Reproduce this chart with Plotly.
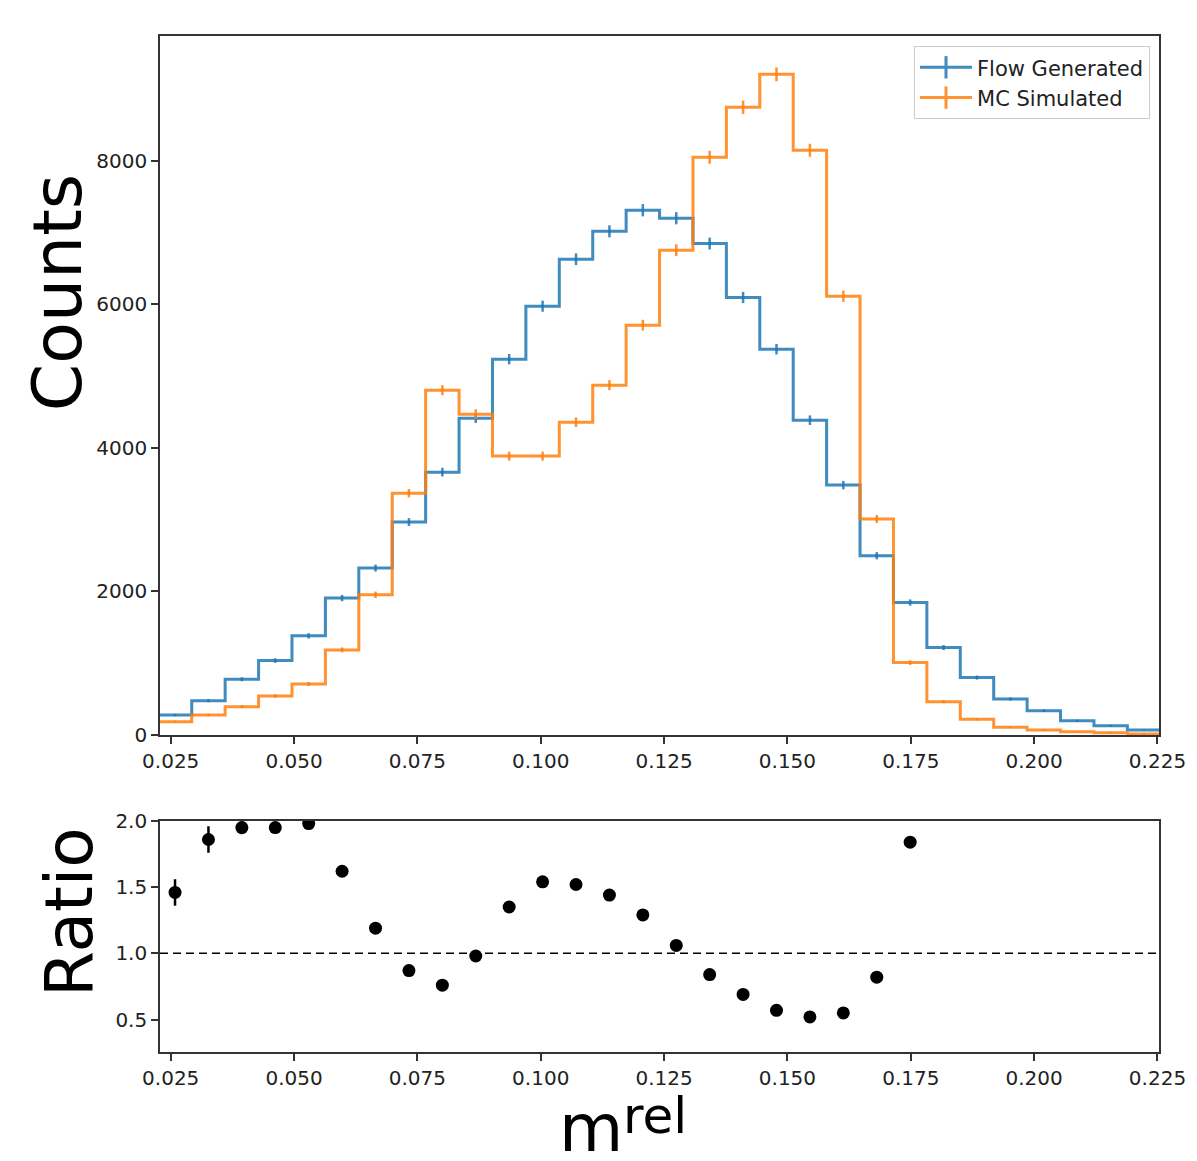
import numpy as np
import plotly.graph_objects as go

# ---------------- data ----------------
bin_lo, bin_hi, n_bins = 0.02249, 0.22567, 30

flow_counts = [279, 479, 777, 1037, 1382, 1908, 2326, 2967, 3663, 4415,
               5237, 5975, 6630, 7019, 7312, 7201, 6848, 6096, 5376, 4387,
               3482, 2498, 1846, 1218, 800, 502, 339, 200, 130, 70]
mc_counts = [185, 279, 395, 544, 712, 1186, 1954, 3370, 4805, 4471,
             3886, 3886, 4359, 4875, 5710, 6755, 8050, 8747, 9206, 8148,
             6114, 3010, 1009, 465, 219, 107, 70, 47, 33, 14]

ratio_vals = [1.46, 1.86, 1.95, 1.95, 1.98, 1.62, 1.19, 0.87, 0.76, 0.98,
              1.35, 1.54, 1.52, 1.44, 1.29, 1.06, 0.84, 0.69, 0.57, 0.52,
              0.55, 0.82, 1.84, None, None, None, None, None, None, None]
ratio_errs = [0.10, 0.10, 0.05, 0.04, 0.04, 0.03, 0.02, 0.02, 0.02, 0.02,
              0.02, 0.02, 0.02, 0.02, 0.02, 0.02, 0.02, 0.02, 0.02, 0.02,
              0.02, 0.02, 0.04, 0, 0, 0, 0, 0, 0, 0]

x_ticks = [0.025, 0.05, 0.075, 0.1, 0.125, 0.15, 0.175, 0.2, 0.225]
x_tick_labels = ["0.025", "0.050", "0.075", "0.100", "0.125", "0.150",
                 "0.175", "0.200", "0.225"]
count_ticks = [0, 2000, 4000, 6000, 8000]
ratio_ticks = [0.5, 1.0, 1.5, 2.0]
series_names = ["Flow Generated", "MC Simulated"]

# ---------------- styling ----------------
BLUE = "#1f77b4"
ORANGE = "#ff7f0e"
FONT = "DejaVu Sans"
AX = "#333333"

edges = np.linspace(bin_lo, bin_hi, n_bins + 1)
centers = 0.5 * (edges[:-1] + edges[1:])

fig = go.Figure()

for counts, color in [(flow_counts, BLUE), (mc_counts, ORANGE)]:
    fig.add_trace(go.Scatter(
        x=edges, y=list(counts) + [counts[-1]], mode="lines",
        line=dict(shape="hv", color=color, width=3), opacity=0.85,
        showlegend=False, hoverinfo="skip", xaxis="x", yaxis="y"))
    fig.add_trace(go.Scatter(
        x=centers, y=counts, mode="markers",
        marker=dict(size=1, color=color), opacity=0.85,
        error_y=dict(type="data", array=np.sqrt(counts), color=color,
                     thickness=2.5, width=0),
        showlegend=False, xaxis="x", yaxis="y"))

# legend entries (line with error-bar cross)
for name, color in zip(series_names, [BLUE, ORANGE]):
    fig.add_trace(go.Scatter(
        x=[None], y=[None], mode="lines+markers", name=name,
        line=dict(color=color, width=3),
        marker=dict(symbol="line-ns", size=20, color=color,
                    line=dict(color=color, width=3)),
        opacity=0.85, xaxis="x", yaxis="y"))

# ratio panel
fig.add_trace(go.Scatter(
    x=centers, y=ratio_vals, mode="markers",
    marker=dict(size=13, color="black"),
    error_y=dict(type="data", array=ratio_errs, color="black",
                 thickness=2.5, width=0),
    showlegend=False, xaxis="x2", yaxis="y2"))

fig.add_shape(type="line", xref="x2 domain", yref="y2", x0=0, x1=1, y0=1, y1=1,
              line=dict(color="black", width=1.5, dash="8px,5px"), layer="below")

axis_common = dict(
    showline=True, linecolor=AX, linewidth=1.6, mirror=True,
    ticks="outside", ticklen=7, tickwidth=1.5, tickcolor=AX,
    showgrid=False, zeroline=False, automargin=False,
    tickfont=dict(family=FONT, size=20, color="#222222"),
)

x_range = [0.02283, 0.22531]

fig.update_layout(
    width=1189, height=1153,
    margin=dict(l=152, r=38, t=28, b=109),
    paper_bgcolor="white", plot_bgcolor="white",
    font=dict(family=FONT, color="#222222"),
    xaxis=dict(domain=[0, 1], anchor="y", range=x_range,
               tickvals=x_ticks, ticktext=x_tick_labels, **axis_common),
    yaxis=dict(domain=[0.312, 1], anchor="x", range=[0, 9740],
               tickvals=count_ticks, **axis_common),
    xaxis2=dict(domain=[0, 1], anchor="y2", range=x_range,
                tickvals=x_ticks, ticktext=x_tick_labels, **axis_common),
    yaxis2=dict(domain=[0, 0.2274], anchor="x2", range=[0.255, 2.0],
                tickvals=ratio_ticks, tickformat=".1f", **axis_common),
    legend=dict(x=0.991, y=0.99, xanchor="right", yanchor="top",
                bgcolor="rgba(255,255,255,0.8)", bordercolor="#cccccc",
                borderwidth=1, font=dict(family=FONT, size=21, color="#222222"),
                itemwidth=52, tracegroupgap=4),
    annotations=[
        dict(text="Counts", x=-0.103, y=0.747, xref="paper", yref="paper",
             textangle=-90, showarrow=False, xanchor="center", yanchor="middle",
             font=dict(family=FONT, size=68, color="black")),
        dict(text="Ratio", x=-0.090, y=0.137, xref="paper", yref="paper",
             textangle=-90, showarrow=False, xanchor="center", yanchor="middle",
             font=dict(family=FONT, size=66, color="black")),
        dict(text="m", x=0.4314, y=-0.0757, xref="paper", yref="paper",
             showarrow=False, xanchor="center", yanchor="middle",
             font=dict(family=FONT, size=66, color="black")),
        dict(text="rel", x=0.4615, y=-0.0625, xref="paper", yref="paper",
             showarrow=False, xanchor="left", yanchor="middle",
             font=dict(family=FONT, size=50, color="black")),
    ],
)

fig.write_html("out.html")
